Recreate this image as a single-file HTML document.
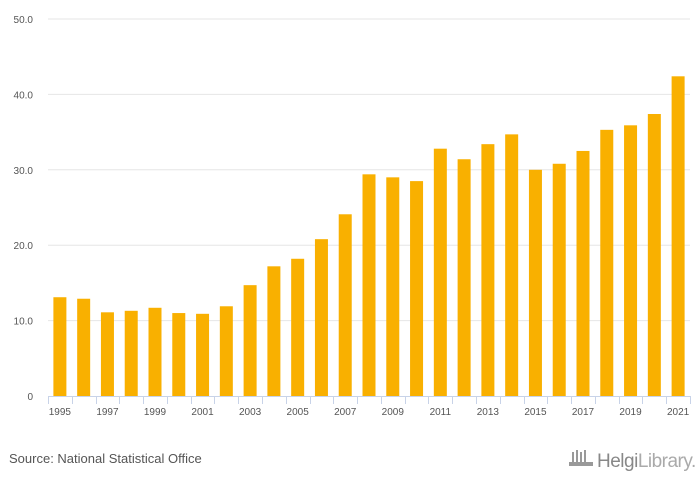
<!DOCTYPE html>
<html><head><meta charset="utf-8"><style>
body{margin:0;background:#fff;width:700px;height:483px;overflow:hidden;font-family:"Liberation Sans",sans-serif}
</style></head><body>
<svg id="c" width="700" height="483" xmlns="http://www.w3.org/2000/svg">
<rect width="700" height="483" fill="#fff"/>
<g id="grid"></g><g id="bars"></g><g id="axis"></g>
<text x="9" y="463" font-size="13" fill="#555">Source: National Statistical Office</text>
<g>
<g fill="#999"><rect x="572" y="452" width="2" height="12"/><rect x="576" y="450" width="2" height="14"/><rect x="580" y="452" width="2" height="12"/><rect x="584" y="450" width="2" height="14"/><rect x="569" y="462" width="24" height="4"/></g>
<text x="597" y="467" font-size="19" fill="#888" letter-spacing="-0.5">Helgi<tspan fill="#aaa">Library.</tspan></text>
</g>
</svg>
<script>
const categories=[1995,1996,1997,1998,1999,2000,2001,2002,2003,2004,2005,2006,2007,2008,2009,2010,2011,2012,2013,2014,2015,2016,2017,2018,2019,2020,2021];
const values=[13.1,12.9,11.1,11.3,11.7,11.0,10.9,11.9,14.7,17.2,18.2,20.8,24.1,29.4,29.0,28.5,32.8,31.4,33.4,34.7,30.0,30.8,32.5,35.3,35.9,37.4,42.4];
const yTicks=[0,10,20,30,40,50];
const yTickLabels=["0","10.0","20.0","30.0","40.0","50.0"];
const NS="http://www.w3.org/2000/svg";
const x0=48,x1=690,yBase=396,yTop=19,yMax=50;
const band=(x1-x0)/categories.length;
const y=v=>yBase-(v/yMax)*(yBase-yTop);
const xc=i=>x0+band*(i+0.5);
function mk(t,a,p){const e=document.createElementNS(NS,t);for(const k in a)e.setAttribute(k,a[k]);p.appendChild(e);return e;}
const grid=document.getElementById('grid'),bars=document.getElementById('bars'),axis=document.getElementById('axis');
yTicks.forEach((v,i)=>{
 if(v>0){const l=mk('line',{x1:x0,x2:x1,y1:y(v),y2:y(v),stroke:'#e6e6e6','stroke-width':1},grid);
 
 }
 const t=mk('text',{x:33,y:y(v)+4,'font-size':10,fill:'#555','text-anchor':'end'},axis);
 t.textContent=yTickLabels[i];
 
 
});
values.forEach((v,i)=>{
 const r=mk('rect',{x:xc(i)-6.5,y:y(v),width:13,height:yBase-y(v),fill:'#f9b000'},bars);
 
 
});
const ax=mk('line',{x1:x0,x2:x1,y1:yBase+0.5,y2:yBase+0.5,stroke:'#c8d3e8','stroke-width':1},axis);


for(let i=0;i<=categories.length;i++){
 const tx=Math.round(x0+band*i)+0.5;
 const tk=mk('line',{x1:tx,x2:tx,y1:yBase,y2:yBase+8,stroke:'#c8d3e8','stroke-width':1},axis);
 
 
}
categories.forEach((c,i)=>{
 if(i%2)return;
 const t=mk('text',{x:xc(i),y:yBase+19,'font-size':10,fill:'#555','text-anchor':'middle'},axis);
 t.textContent=c;
 
 
});
</script>
</body></html>
